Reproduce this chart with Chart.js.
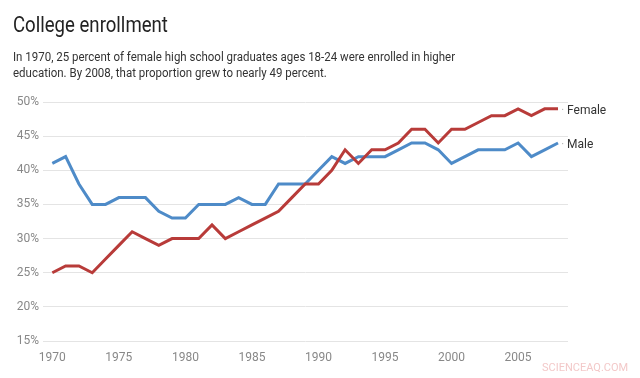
<!DOCTYPE html>
<html><head><meta charset="utf-8">
<script src="https://cdn.jsdelivr.net/npm/chart.js@4"></script>
<style>
html,body{margin:0;padding:0;background:#fff;width:640px;height:378px;overflow:hidden;font-family:Roboto,sans-serif}
#wrap{position:absolute;left:0;top:0;width:640px;height:378px}
#title{position:absolute;left:13px;top:12px;font-size:22px;line-height:26px;color:#222;white-space:nowrap;transform:scaleX(0.845);transform-origin:left top}
#sub{position:absolute;left:13px;top:47.5px;font-size:13.6px;line-height:16.7px;color:#333;white-space:nowrap;transform:scaleX(0.845);transform-origin:left top}
#wm{position:absolute;left:542px;top:361px;font-size:11px;color:#f3c9c9;white-space:nowrap}
</style></head>
<body>
<div id="wrap"><canvas id="c" width="640" height="378"></canvas></div>
<div id="title">College enrollment</div>
<div id="sub">In 1970, 25 percent of female high school graduates ages 18-24 were enrolled in higher<br>education. By 2008, that proportion grew to nearly 49 percent.</div>
<div id="wm">SCIENCEAQ.COM</div>
<script>
const years = [1970,1971,1972,1973,1974,1975,1976,1977,1978,1979,1980,1981,1982,1983,1984,1985,1986,1987,1988,1989,1990,1991,1992,1993,1994,1995,1996,1997,1998,1999,2000,2001,2002,2003,2004,2005,2006,2007,2008];
const female = [25,26,26,25,27,29,31,30,29,30,30,30,32,30,31,32,33,34,36,38,38,40,43,41,43,43,44,46,46,44,46,46,47,48,48,49,48,49,49];
const male = [41,42,38,35,35,36,36,36,34,33,33,35,35,35,36,35,35,38,38,38,40,42,41,42,42,42,43,44,44,43,41,42,43,43,43,44,42,43,44];
const xTicks = [1970,1975,1980,1985,1990,1995,2000,2005];
const yTicks = [15,20,25,30,35,40,45,50];
const seriesNames = ['Female','Male'];

const toPts = arr => arr.map((v,i)=>({x:years[i],y:v}));

const endLabels = {
  id:'endLabels',
  afterDatasetsDraw(chart){
    const ctx = chart.ctx;
    chart.data.datasets.forEach((ds,i)=>{
      const meta = chart.getDatasetMeta(i);
      const last = meta.data[meta.data.length-1];
      ctx.save();
      ctx.fillStyle = '#bbb';
      ctx.fillRect(last.x+4, last.y, 1.2, 1.2);
      ctx.fillStyle = '#333';
      ctx.font = '12px Roboto';
      ctx.textBaseline = 'middle';
      ctx.textAlign = 'left';
      ctx.fillText(ds.label, last.x+9, last.y+2.5);
      ctx.restore();
    });
  }
};

new Chart(document.getElementById('c'),{
  type:'line',
  data:{datasets:[
    {label:seriesNames[0],data:toPts(female),borderColor:'#b83b39',borderWidth:3,pointRadius:0,tension:0,fill:false},
    {label:seriesNames[1],data:toPts(male),borderColor:'#4e8bc8',borderWidth:3,pointRadius:0,tension:0,fill:false}
  ]},
  options:{
    responsive:false,animation:false,
    layout:{padding:{top:102,right:72,bottom:0,left:0}},
    plugins:{legend:{display:false},tooltip:{enabled:false},title:{display:false}},
    scales:{
      x:{type:'linear',min:1969.3,max:2008.75,
        afterBuildTicks(s){s.ticks=xTicks.map(v=>({value:v}));},
        afterFit(s){s.height=37;},
        grid:{display:false,drawTicks:false},border:{display:false},
        ticks:{padding:10,color:'#888',font:{family:'Roboto',size:12},callback:v=>String(v),maxRotation:0,autoSkip:false}},
      y:{min:15,max:50,
        afterBuildTicks(s){s.ticks=yTicks.map(v=>({value:v}));},
        afterFit(s){s.width=43;},
        grid:{color:'#e4e4e4',drawTicks:false,lineWidth:1},border:{display:false},
        ticks:{padding:4,color:'#888',font:{family:'Roboto',size:12},callback:v=>v+'%'}}
    }
  },
  plugins:[endLabels]
});
</script>
</body></html>
